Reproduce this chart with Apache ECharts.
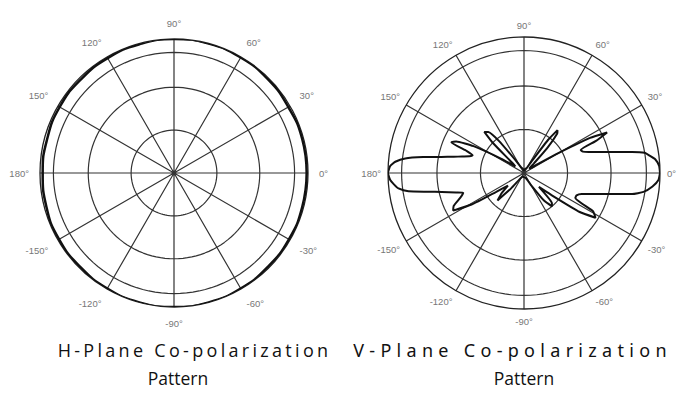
<!DOCTYPE html>
<html>
<head>
<meta charset="utf-8">
<script src="https://cdn.jsdelivr.net/npm/echarts@6/dist/echarts.min.js"></script>
<style>
html,body{margin:0;padding:0;background:#fff;}
#chart{width:681px;height:400px;}
#chart text[style*="Open Sans"][style*="18px"]{letter-spacing:3.3px;}
#chart text[style*="Noto Sans"][style*="18px"]{letter-spacing:5.3px;}
</style>
</head>
<body>
<div id="chart"></div>
<script>
// Angle tick labels (degrees)
const angleTicks = [0, 30, 60, 90, 120, 150, 180, 210, 240, 270, 300, 330];
// Grid ring radii (normalized)
const ringRadii = [0.32, 0.64, 0.9];

// H-plane co-polarization (normalized radius vs angle)
const hAngles = [0,15,30,45,60,75,90,105,120,135,150,165,180,195,210,225,240,255,270,285,300,315,330,345,360];
const hGain   = [0.99,0.99,0.985,0.99,0.995,1.0,1.0,0.995,0.99,0.985,0.985,0.98,0.98,0.985,0.99,0.99,0.995,1.0,1.0,1.0,0.995,0.99,0.99,0.99,0.99];

// V-plane co-polarization
const vAngles = [0,3,6,8,9.5,11,12,14,16,18,20,22,24,26,28,30,33,36,40,44,47,50,52,54,57,62,75,90,105,118,124,128,131,134,136,139,143,148,152,155,157,159,161,163,165,167,169,171,173,175,177,180,183,185,187,189,191,193,196,198,201,205,208,211,214,218,222,226,230,236,250,270,290,300,306,310,313,317,321,325,328,331,334,337,340,342,344,346,348,349,351,354,357,360];
const vGain   = [1.0,0.995,0.97,0.93,0.9,0.81,0.74,0.64,0.56,0.5,0.46,0.45,0.58,0.68,0.55,0.3,0.12,0.06,0.05,0.1,0.25,0.38,0.4,0.3,0.1,0.04,0.03,0.02,0.03,0.05,0.12,0.3,0.4,0.42,0.32,0.12,0.08,0.2,0.42,0.55,0.58,0.45,0.4,0.42,0.47,0.53,0.62,0.75,0.88,0.95,0.985,1.0,0.985,0.96,0.93,0.86,0.72,0.62,0.52,0.47,0.5,0.57,0.59,0.45,0.25,0.15,0.22,0.28,0.15,0.05,0.03,0.03,0.04,0.1,0.25,0.32,0.3,0.15,0.25,0.5,0.62,0.58,0.42,0.42,0.45,0.5,0.56,0.64,0.74,0.81,0.89,0.95,0.99,1.0];

const titlesLine1 = ['H-Plane Co-polarization', 'V-Plane Co-polarization'];
const titlesLine2 = ['Pattern', 'Pattern'];

const ringAngles = [];
for (let a = 0; a <= 360; a += 3) ringAngles.push(a);

function angleLabel(v) {
  const d = v > 180 ? v - 360 : v;
  return d + '°';
}

function makeAngleAxis(idx, margin) {
  return {
    polarIndex: idx, type: 'value', min: 0, max: 360, interval: 30,
    startAngle: 0, clockwise: false,
    axisLine: {show: true, lineStyle: {color: '#222', width: 1.3}},
    axisTick: {show: false},
    splitLine: {show: true, lineStyle: {color: '#333', width: 1.2}},
    axisLabel: {formatter: angleLabel, color: '#777', fontSize: 9.5, margin: margin, fontFamily: 'Liberation Sans'}
  };
}
function makeRadiusAxis(idx) {
  return {
    polarIndex: idx, type: 'value', min: 0, max: 1,
    axisLine: {show: false}, axisTick: {show: false},
    axisLabel: {show: false}, splitLine: {show: false}
  };
}

const series = [];
[0, 1].forEach(function (p) {
  ringRadii.forEach(function (r) {
    series.push({
      type: 'line', coordinateSystem: 'polar', polarIndex: p, silent: true,
      showSymbol: false, symbol: 'none',
      lineStyle: {color: '#333', width: 1.2},
      data: ringAngles.map(function (a) { return [r, a]; }),
      z: 1
    });
  });
});
series.push({
  type: 'line', coordinateSystem: 'polar', polarIndex: 0, symbol: 'none',
  smooth: true, lineStyle: {color: '#111', width: 2.5},
  data: hAngles.map(function (a, i) { return [hGain[i], a]; }), z: 3
});
series.push({
  type: 'line', coordinateSystem: 'polar', polarIndex: 1, symbol: 'none',
  smooth: 0.15, lineStyle: {color: '#111', width: 2},
  data: vAngles.map(function (a, i) { return [vGain[i], a]; }), z: 3
});

const title = [
  {text: titlesLine1[0], left: 189.5, top: 336, textAlign: 'center',
   textStyle: {fontFamily: 'Open Sans', fontSize: 18, fontWeight: 'normal', color: '#111'}},
  {text: titlesLine1[1], left: 507.5, top: 336, textAlign: 'center',
   textStyle: {fontFamily: 'Noto Sans', fontSize: 18, fontWeight: 'normal', color: '#111'}},
  {text: titlesLine2[0], left: 173, top: 364, textAlign: 'center',
   textStyle: {fontFamily: 'Open Sans', fontSize: 17.5, fontWeight: 'normal', color: '#111'}},
  {text: titlesLine2[1], left: 519, top: 364, textAlign: 'center',
   textStyle: {fontFamily: 'Open Sans', fontSize: 17.5, fontWeight: 'normal', color: '#111'}}
];

const chart = echarts.init(document.getElementById('chart'), null, {renderer: 'svg'});
chart.setOption({
  animation: false,
  backgroundColor: '#fff',
  title: title,
  polar: [{center: [174, 173], radius: 134}, {center: [524, 173], radius: 136}],
  angleAxis: [makeAngleAxis(0, 11), makeAngleAxis(1, 7)],
  radiusAxis: [makeRadiusAxis(0), makeRadiusAxis(1)],
  series: series
});
</script>
</body>
</html>
